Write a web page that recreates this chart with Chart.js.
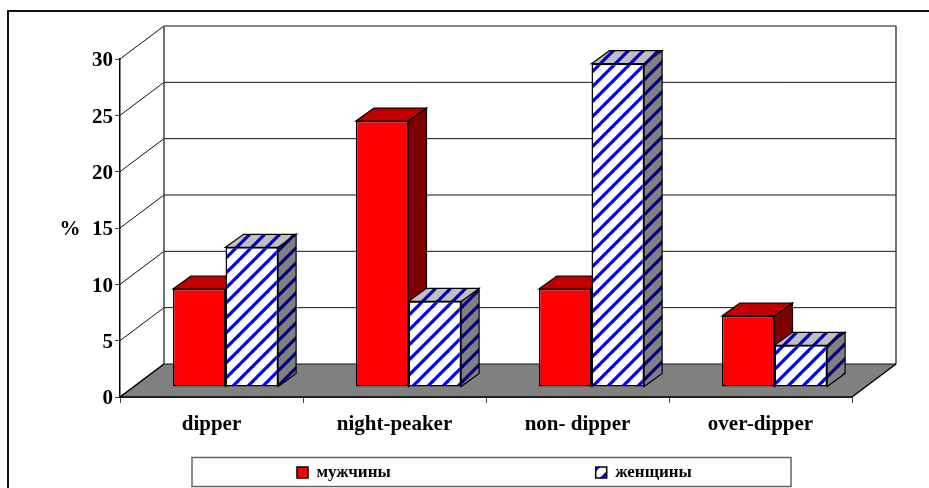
<!DOCTYPE html>
<html>
<head>
<meta charset="utf-8">
<style>
  html, body { margin: 0; background: #fff; }
  canvas { display: block; }
</style>
<script src="https://cdn.jsdelivr.net/npm/chart.js@4"></script>
</head>
<body>
<canvas id="chart" width="929" height="488"></canvas>
<script>
const categories = ["dipper", "night-peaker", "non- dipper", "over-dipper"];
const men = [8.7, 23.6, 8.7, 6.3];
const women = [12.4, 7.6, 28.7, 3.7];
const seriesNames = ["мужчины", "женщины"];

const FONT = '"Liberation Serif", "Times New Roman", serif';
// room depth and where the bars stand inside it
const DEPTH_X = 44, DEPTH_Y = -33;
const BAR_SHIFT_X = 14, BAR_SHIFT_Y = -10;
const BAR_DEPTH_X = 18, BAR_DEPTH_Y = -13;
const LEGEND_GAP = 205;

function stripes(bg, fg) {
  const size = 15;
  const tile = document.createElement("canvas");
  tile.width = tile.height = size;
  const c = tile.getContext("2d");
  c.fillStyle = bg;
  c.fillRect(0, 0, size, size);
  c.strokeStyle = fg;
  c.lineWidth = 3.2;
  [-size, 0, size].forEach((off) => {
    c.beginPath();
    c.moveTo(off - 2, size + 2);
    c.lineTo(off + size + 2, -2);
    c.stroke();
  });
  return c.createPattern(tile, "repeat");
}

const womenFront = stripes("#ffffff", "#0000ff");
const faces = [
  { top: "#c00000", side: "#800000" },
  { top: stripes("#c0c0c0", "#0000c0"), side: stripes("#808080", "#000080") },
];

function poly(ctx, pts, fill, stroke, width) {
  ctx.beginPath();
  pts.forEach((p, i) => (i ? ctx.lineTo(p[0], p[1]) : ctx.moveTo(p[0], p[1])));
  ctx.closePath();
  if (fill) {
    ctx.fillStyle = fill;
    ctx.fill();
  }
  if (stroke) {
    ctx.strokeStyle = stroke;
    ctx.lineWidth = width;
    ctx.stroke();
  }
}

const room = {
  id: "room",
  afterUpdate(chart) {
    // legend items start inside the box, well apart, and stay on one row
    chart.legend.left = 297 - LEGEND_GAP;
    chart.legend.right = 2000;
    chart.legend.top = 464 - LEGEND_GAP;
  },
  beforeDraw(chart) {
    const { ctx } = chart;
    ctx.save();
    ctx.fillStyle = "#fff";
    ctx.fillRect(0, 0, chart.width, chart.height);
    // outer frame runs off the right and bottom
    ctx.strokeStyle = "#111";
    ctx.lineWidth = 2;
    ctx.beginPath();
    ctx.moveTo(8, 488);
    ctx.lineTo(8, 11);
    ctx.lineTo(929, 11);
    ctx.stroke();
    // legend box
    ctx.strokeStyle = "#666";
    ctx.lineWidth = 1.5;
    ctx.strokeRect(192, 457.5, 599, 29);
    ctx.restore();
  },
  beforeDatasetsDraw(chart) {
    const { ctx, chartArea: a } = chart;
    const y = chart.scales.y;
    ctx.save();
    const zero = y.getPixelForValue(0);
    poly(ctx, [
      [a.left, zero],
      [a.right, zero],
      [a.right + DEPTH_X, zero + DEPTH_Y],
      [a.left + DEPTH_X, zero + DEPTH_Y],
    ], "#808080", null);

    y.ticks.forEach((t) => {
      const py = y.getPixelForValue(t.value);
      ctx.strokeStyle = "#111";
      ctx.lineWidth = 1;
      ctx.beginPath();
      ctx.moveTo(a.left, py);
      ctx.lineTo(a.left + DEPTH_X, py + DEPTH_Y);
      ctx.lineTo(a.right + DEPTH_X, py + DEPTH_Y);
      ctx.stroke();
    });

    ctx.strokeStyle = "#444";
    ctx.lineWidth = 1.5;
    ctx.beginPath();
    ctx.moveTo(a.left + DEPTH_X, a.top + DEPTH_Y);
    ctx.lineTo(a.left + DEPTH_X, zero + DEPTH_Y);
    ctx.moveTo(a.right + DEPTH_X, a.top + DEPTH_Y);
    ctx.lineTo(a.right + DEPTH_X, zero + DEPTH_Y);
    ctx.stroke();

    // floor edges over the grey
    ctx.strokeStyle = "#000";
    ctx.lineWidth = 1.5;
    ctx.beginPath();
    ctx.moveTo(a.left, zero);
    ctx.lineTo(a.left + DEPTH_X, zero + DEPTH_Y);
    ctx.moveTo(a.right, zero);
    ctx.lineTo(a.right + DEPTH_X, zero + DEPTH_Y);
    ctx.moveTo(a.left, zero);
    ctx.lineTo(a.right, zero);
    ctx.stroke();

    // bars stand back from the front plane
    ctx.translate(BAR_SHIFT_X, BAR_SHIFT_Y);
    categories.forEach((_, i) => {
      chart.data.datasets.forEach((ds, d) => {
        const bar = chart.getDatasetMeta(d).data[i];
        const l = bar.x - bar.width / 2;
        const r = bar.x + bar.width / 2;
        poly(ctx, [
          [r, bar.y],
          [r + BAR_DEPTH_X, bar.y + BAR_DEPTH_Y],
          [r + BAR_DEPTH_X, bar.base + BAR_DEPTH_Y],
          [r, bar.base],
        ], faces[d].side, "#000", 1.2);
        poly(ctx, [
          [l, bar.y],
          [l + BAR_DEPTH_X, bar.y + BAR_DEPTH_Y],
          [r + BAR_DEPTH_X, bar.y + BAR_DEPTH_Y],
          [r, bar.y],
        ], faces[d].top, "#000", 1.2);
      });
    });
  },
  afterDatasetsDraw(chart) {
    chart.ctx.restore();
  },
  afterDraw(chart) {
    const { ctx } = chart;
    ctx.save();
    ctx.fillStyle = "#000";
    ctx.font = "bold 21px " + FONT;
    ctx.textAlign = "center";
    ctx.textBaseline = "middle";
    ctx.fillText("%", 70, 230);
    ctx.restore();
  },
};

new Chart(document.getElementById("chart"), {
  type: "bar",
  data: {
    labels: categories,
    datasets: [
      {
        label: seriesNames[0],
        data: men,
        backgroundColor: "#ff0000",
        borderColor: "#000",
        borderWidth: 1.5,
        borderSkipped: false,
      },
      {
        label: seriesNames[1],
        data: women,
        backgroundColor: womenFront,
        borderColor: "#000",
        borderWidth: 1.5,
        borderSkipped: false,
      },
    ],
  },
  options: {
    responsive: false,
    animation: false,
    events: [],
    layout: { padding: { top: 59, right: 77, bottom: 0, left: 0 } },
    datasets: { bar: { categoryPercentage: 0.575, barPercentage: 1, clip: false } },
    scales: {
      x: {
        afterFit(scale) {
          scale.height = 61;
        },
        grid: { offset: true, drawOnChartArea: false, color: "#444", tickLength: 6 },
        border: { color: "#000", width: 1.5 },
        ticks: {
          color: "#000",
          padding: 9,
          maxRotation: 0,
          font: { family: FONT, size: 21, weight: "bold" },
        },
      },
      y: {
        min: 0,
        max: 30,
        afterFit(scale) {
          scale.width = 120;
        },
        grid: { drawOnChartArea: false, color: "#444", tickLength: 5 },
        border: { color: "#000", width: 1.5 },
        ticks: {
          stepSize: 5,
          color: "#000",
          padding: 2,
          labelOffset: 2,
          font: { family: FONT, size: 21, weight: "bold" },
        },
      },
    },
    plugins: {
      tooltip: { enabled: false },
      legend: {
        position: "bottom",
        align: "start",
        maxHeight: 30,
        labels: {
          color: "#000",
          boxWidth: 11,
          boxHeight: 11,
          padding: LEGEND_GAP,
          font: { family: FONT, size: 17, weight: "bold" },
        },
      },
    },
  },
  plugins: [room],
});
</script>
</body>
</html>
